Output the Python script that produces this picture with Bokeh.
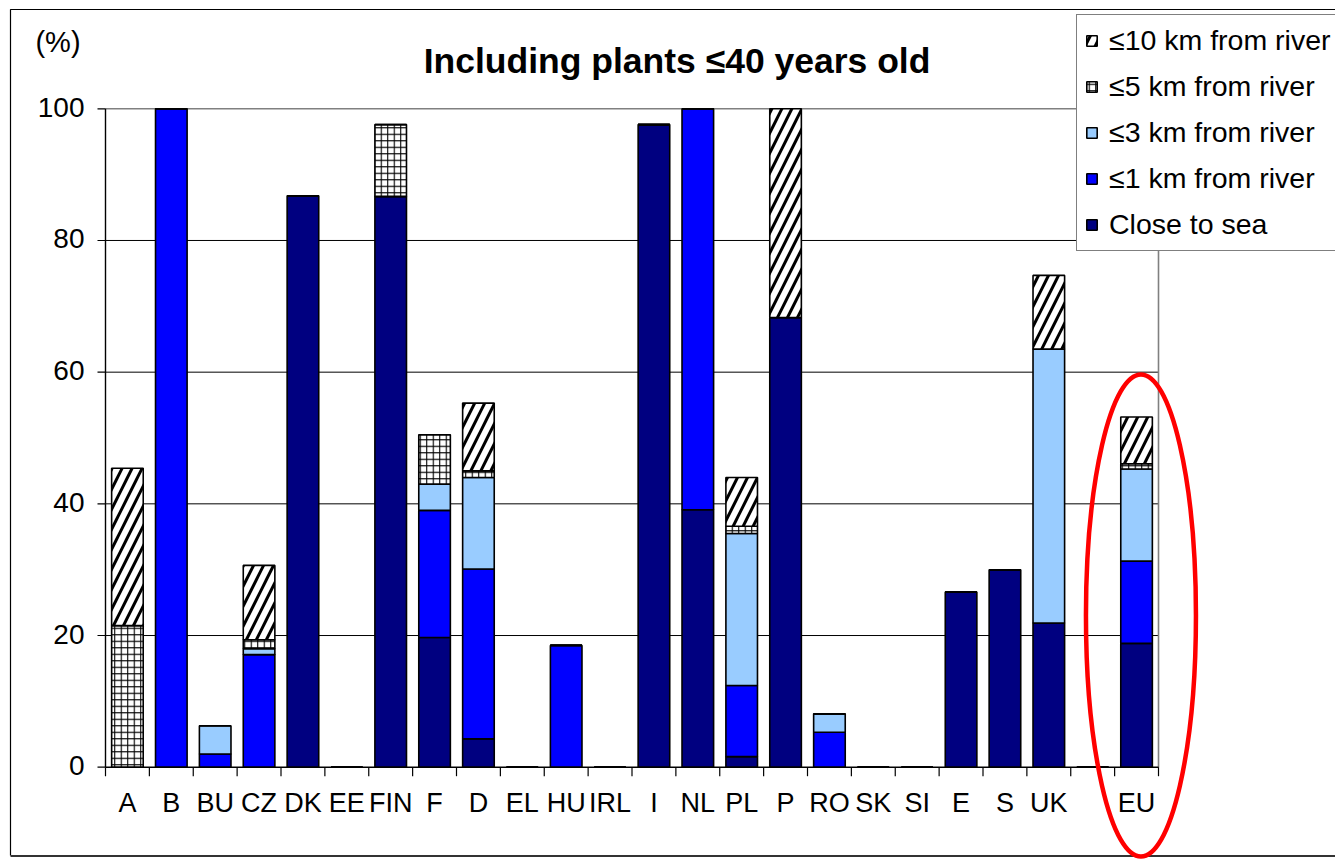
import numpy as np
from bokeh.plotting import figure
from bokeh.models import Range1d, ColumnDataSource, Legend, LegendItem
from bokeh.core.properties import value
from bokeh.embed import file_html
from bokeh.resources import INLINE

# ---------------- data ----------------
categories = ["A", "B", "BU", "CZ", "DK", "EE", "FIN", "F", "D", "EL", "HU", "IRL",
              "I", "NL", "PL", "P", "RO", "SK", "SI", "E", "S", "UK", "", "EU"]
close_to_sea = [0, 0, 0, 0, 86.8, 0, 86.7, 19.7, 4.3, 0, 0, 0,
                97.6, 39.1, 1.6, 68.3, 0, 0, 0, 26.6, 30.0, 21.9, 0, 18.8]
river_1km = [0, 100, 2.0, 17.1, 0, 0, 0, 19.3, 25.8, 0, 18.5, 0,
             0, 60.9, 10.8, 0, 5.3, 0, 0, 0, 0, 0, 0, 12.5]
river_3km = [0, 0, 4.3, 0.9, 0, 0, 0, 4.0, 13.9, 0, 0, 0,
             0, 0, 23.1, 0, 2.8, 0, 0, 0, 0, 41.6, 0, 14.0]
river_5km = [21.5, 0, 0, 1.35, 0, 0, 10.9, 7.5, 1.0, 0, 0, 0,
             0, 0, 1.1, 0, 0, 0, 0, 0, 0, 0, 0, 0.8]
river_10km = [23.9, 0, 0, 11.3, 0, 0, 0, 0, 10.3, 0, 0, 0,
              0, 0, 7.4, 31.7, 0, 0, 0, 0, 0, 11.2, 0, 7.1]

series_keys = ["close_to_sea", "river_1km", "river_3km", "river_5km", "river_10km"]
series_labels = ["Close to sea", "≤1 km from river", "≤3 km from river",
                 "≤5 km from river", "≤10 km from river"]
y_ticks = [0, 20, 40, 60, 80, 100]
title_text = "Including plants ≤40 years old"
unit_text = "(%)"
highlight = "EU"

# ---------------- layout (reference pixel geometry) ----------------
W, H = 1335, 859
AX_LEFT, AX_RIGHT = 105.0, 1158.0
Y_ZERO, Y_TOP = 766.7, 108.3
n = len(categories)
SLOT = (AX_RIGHT - AX_LEFT) / n
UNIT = (Y_ZERO - Y_TOP) / 100.0


def sx(px):
    return (px - AX_LEFT) / SLOT


def sy(py):
    return (Y_ZERO - py) / UNIT


FONT = "Liberation Sans"

p = figure(width=W, height=H, output_backend="svg", toolbar_location=None, title=None,
           x_range=Range1d(sx(0), sx(W)),
           y_range=Range1d(sy(H), sy(0)),
           x_axis_location=None, y_axis_location=None, min_border=0, tools="")
p.outline_line_color = None
p.xgrid.visible = False
p.ygrid.visible = False
p.background_fill_color = "white"
p.border_fill_color = "white"

# outer chart border
p.line(x=[sx(10), sx(10), sx(1400)], y=[sy(855), sy(9), sy(9)], line_color="black", line_width=1.2)
p.segment(x0=[sx(10)], y0=[sy(855.5)], x1=[sx(1400)], y1=[sy(855.5)], line_color="#333333", line_width=2)

# gridlines
inner = [t for t in y_ticks if 0 < t < max(y_ticks)]
p.segment(x0=[0] * len(inner), y0=inner, x1=[n] * len(inner), y1=inner,
          line_color="black", line_width=1)
p.segment(x0=[0], y0=[max(y_ticks)], x1=[n], y1=[max(y_ticks)], line_color="#808080", line_width=1.6)
p.segment(x0=[n], y0=[0], x1=[n], y1=[max(y_ticks)], line_color="#808080", line_width=1.6)

# bars
src = ColumnDataSource(dict(
    x=np.arange(n) + 0.5,
    close_to_sea=close_to_sea, river_1km=river_1km, river_3km=river_3km,
    river_5km=river_5km, river_10km=river_10km))

renderers = p.vbar_stack(
    series_keys, x="x", width=0.72, source=src,
    fill_color=["#000080", "#0000FF", "#99CCFF", "white", "white"],
    hatch_pattern=[" ", " ", " ", "+", "/"],
    hatch_scale=[12, 12, 12, 6.5, 20],
    hatch_weight=[1, 1, 1, 1.1, 3],
    hatch_color="black",
    line_color="black", line_width=1.6)

# axes lines
p.segment(x0=[0], y0=[0], x1=[0], y1=[max(y_ticks)], line_color="black", line_width=1.4)
p.segment(x0=[0], y0=[0], x1=[n], y1=[0], line_color="black", line_width=1.4)
# y ticks
p.segment(x0=[-8 / SLOT] * len(y_ticks), y0=y_ticks, x1=[0] * len(y_ticks), y1=y_ticks,
          line_color="black", line_width=1.2)
# x ticks
xt = np.arange(n + 1)
p.segment(x0=xt, y0=[0] * len(xt), x1=xt, y1=[-9 / UNIT] * len(xt), line_color="black", line_width=1.2)

# y tick labels
p.text(x=[sx(84)] * len(y_ticks), y=y_ticks, text=[str(t) for t in y_ticks],
       text_align="right", text_baseline="alphabetic", y_offset=-1.5,
       text_font=value(FONT), text_font_size="28px", text_color="black")
# category labels
p.text(x=np.arange(n) + 0.5, y=[0] * n, text=categories,
       text_align="center", text_baseline="alphabetic", y_offset=36,
       text_font=value(FONT), text_font_size="27px", text_color="black")
# unit label
p.text(x=[sx(57.5)], y=[sy(41)], text=[unit_text], text_align="center", text_baseline="alphabetic",
       text_font=value(FONT), text_font_size="29px", text_color="black")
# title
p.text(x=[sx(676.5)], y=[sy(60)], text=[title_text], text_align="center", text_baseline="alphabetic",
       text_font=value(FONT), text_font_size="35.5px", text_font_style="bold", text_color="black")

# highlight ellipse around EU
hi = categories.index(highlight)
p.ellipse(x=[hi + 0.6], y=[sy(615)], width=[110 / SLOT], height=[482 / UNIT],
          fill_color=None, line_color="#FF0000", line_width=4.5)

# legend
items = [LegendItem(label=series_labels[i], renderers=[renderers[i]]) for i in [4, 3, 2, 1, 0]]
legend = Legend(items=items, location=(1076, H - 251),
                orientation="vertical",
                border_line_color="black", border_line_width=1.2,
                background_fill_color="white", background_fill_alpha=1.0,
                label_text_font=FONT, label_text_font_size="28.5px", label_text_color="black",
                glyph_width=13, glyph_height=13, label_standoff=11,
                padding=8, spacing=11, margin=0, label_height=35)
p.add_layout(legend)

open("out.html", "w").write(file_html(p, INLINE))
